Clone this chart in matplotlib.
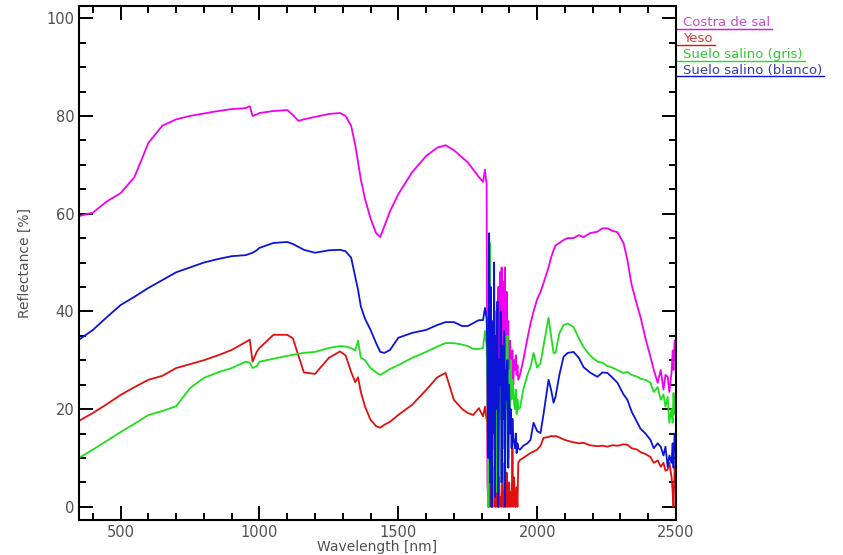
import matplotlib
matplotlib.use("Agg")
import matplotlib.pyplot as plt
from matplotlib.lines import Line2D
import numpy as np

# wavelength grid for the smooth parts (nm)
wl_vis = [350, 400, 450, 500, 550, 600, 650, 700, 750, 800, 850, 900, 950, 965, 975, 990,
          1000, 1050, 1100, 1120, 1140, 1160, 1200, 1250, 1290, 1310, 1330, 1345, 1355, 1365,
          1380, 1400, 1420, 1435, 1450, 1470, 1500, 1550, 1600, 1640, 1670, 1700, 1730, 1750,
          1770, 1790, 1805, 1812, 1818]

costra_vis = [59.5, 60.2, 62.5, 64.2, 67.5, 74.5, 78.0, 79.3, 80.0, 80.5, 81.0, 81.4, 81.6, 82.0, 80.0, 80.3,
              80.6, 81.0, 81.2, 80.2, 79.0, 79.3, 79.8, 80.4, 80.6, 80.0, 78.0, 74.0, 70.5, 67.0,
              63.0, 59.0, 56.0, 55.2, 57.5, 60.5, 64.0, 68.5, 71.8, 73.5, 74.0, 73.0, 71.5, 70.5,
              69.0, 67.5, 66.5, 69.0, 66.0]

yeso_vis = [17.6, 19.2, 21.0, 22.9, 24.5, 26.0, 26.8, 28.4, 29.2, 30.0, 31.0, 32.1, 33.7, 34.2, 29.7, 31.7,
            32.5, 35.2, 35.2, 34.5, 31.0, 27.5, 27.2, 30.5, 31.8, 31.0, 27.6, 25.5, 26.5, 23.5,
            20.5, 17.8, 16.5, 16.2, 16.8, 17.4, 18.8, 20.9, 23.9, 26.5, 27.4, 21.9, 20.0, 19.2,
            18.8, 20.2, 18.5, 20.5, 17.8]

gris_vis = [10.0, 11.7, 13.5, 15.3, 17.0, 18.8, 19.6, 20.6, 24.3, 26.4, 27.5, 28.4, 29.7, 29.5, 28.4, 28.8,
            29.7, 30.3, 30.9, 31.1, 31.3, 31.5, 31.7, 32.5, 32.9, 32.8, 32.5, 32.0, 34.0, 30.5,
            30.0, 28.4, 27.5, 27.0, 27.5, 28.2, 29.0, 30.5, 31.7, 32.8, 33.5, 33.5, 33.2, 32.9,
            32.3, 32.3, 32.5, 36.0, 33.0]

blanco_vis = [34.2, 36.2, 38.8, 41.3, 43.0, 44.8, 46.4, 48.0, 49.0, 50.0, 50.7, 51.3, 51.5, 51.8, 52.0, 52.5,
              53.0, 54.0, 54.2, 53.8, 53.2, 52.6, 52.0, 52.5, 52.6, 52.3, 51.0, 47.0, 44.4, 41.0,
              38.5, 36.2, 33.5, 31.7, 31.5, 32.1, 34.6, 35.6, 36.2, 37.2, 37.8, 37.8, 37.0, 37.0,
              37.6, 38.2, 38.2, 40.7, 38.5]

# water absorption band (noisy, nm)
wl_noise = [1821, 1824, 1827, 1830, 1833, 1836, 1839, 1842, 1845, 1848, 1851, 1854, 1857, 1860,
            1863, 1866, 1869, 1872, 1875, 1878, 1881, 1884, 1887, 1890, 1893, 1896, 1899, 1902,
            1905, 1908, 1911, 1914, 1917, 1920, 1923, 1926, 1929, 1932]

costra_noise = [5, 0, 44, 20, 38, 8, 30, 12, 40, 18, 28, 35, 15, 45, 22, 48, 30, 49,
                25, 46, 35, 49, 20, 44, 30, 38, 26, 34, 30, 28, 32, 25, 30, 28, 31, 27, 29, 26]
yeso_noise = [18, 0, 5, 0, 12, 0, 0, 8, 0, 3, 0, 10, 0, 0, 6, 0, 2, 0,
              9, 0, 0, 4, 0, 7, 0, 0, 5, 0, 3, 0, 12, 0, 6, 0, 0, 4, 0, 9]
gris_noise = [25, 0, 30, 54, 10, 35, 0, 28, 15, 40, 3, 22, 30, 0, 25, 18, 33, 5,
              28, 12, 30, 0, 25, 20, 35, 10, 28, 18, 30, 22, 26, 24, 21, 20, 24, 19, 22, 20]
blanco_noise = [30, 10, 56, 5, 45, 0, 38, 15, 50, 2, 35, 20, 42, 0, 30, 25, 40, 5,
                33, 18, 36, 0, 28, 22, 30, 8, 25, 15, 20, 12, 18, 14, 13, 12, 15, 11, 13, 12]

# SWIR part (nm)
wl_swir = [1938, 1950, 1965, 1976, 1987, 2000, 2012, 2023, 2041, 2050, 2059, 2066, 2080, 2095,
           2110, 2131, 2150, 2167, 2190, 2217, 2235, 2253, 2270, 2289, 2311, 2325, 2340, 2361,
           2372, 2390, 2408, 2420, 2434, 2445, 2455, 2462, 2470, 2476, 2484, 2488, 2491, 2495, 2500]

costra_swir = [27.0, 30.0, 34.5, 37.5, 40.0, 42.5, 44.0, 45.8, 49.0, 51.0, 52.5, 53.5, 54.0, 54.6,
               55.0, 55.0, 55.6, 55.2, 56.0, 56.3, 57.0, 57.0, 56.5, 56.2, 54.0, 50.5, 45.5, 41.0,
               38.9, 34.5, 30.7, 28.0, 25.4, 28.0, 24.0, 27.0, 26.6, 23.5, 27.5, 32.0, 28.0, 34.0, 30.0]

yeso_swir = [9.6, 10.0, 10.6, 11.0, 11.3, 11.7, 12.5, 14.1, 14.3, 14.5, 14.4, 14.5, 14.2, 13.8,
             13.5, 13.2, 13.0, 13.1, 12.6, 12.4, 12.5, 12.3, 12.6, 12.5, 12.8, 12.7, 12.0, 11.7,
             11.2, 10.8, 10.2, 9.0, 9.5, 8.2, 9.0, 7.4, 7.6, 9.0, 6.1, 3.0, 0.0, 8.0, 5.0]

gris_swir = [20.2, 24.0, 27.0, 28.6, 31.5, 28.5, 29.4, 33.0, 38.7, 35.0, 31.5, 31.5, 35.5, 37.2,
             37.5, 36.8, 34.5, 32.7, 31.0, 29.7, 29.5, 28.8, 28.5, 28.0, 27.4, 27.6, 27.0, 26.6,
             26.2, 26.0, 25.4, 23.5, 24.5, 21.9, 23.0, 20.5, 22.5, 17.2, 20.0, 17.2, 23.3, 19.0, 23.0]

blanco_swir = [11.7, 12.5, 13.0, 13.7, 17.2, 15.5, 15.1, 19.0, 26.0, 24.0, 21.3, 22.5, 27.0, 30.7,
               31.5, 31.7, 30.5, 28.6, 27.5, 26.6, 27.5, 27.4, 26.5, 25.4, 23.0, 21.9, 19.5, 17.2,
               16.0, 15.0, 13.7, 12.0, 13.0, 12.3, 10.5, 12.3, 8.2, 10.5, 9.0, 13.0, 8.0, 15.0, 12.0]

labels = ["Costra de sal", "Yeso", "Suelo salino (gris)", "Suelo salino (blanco)"]
colors = ["#f000f0", "#e01010", "#1ede1e", "#0c14d8"]
text_colors = ["#c84cc8", "#cc3a3a", "#30c830", "#3a3ab0"]

wl = wl_vis + wl_noise + wl_swir
series = [
    costra_vis + costra_noise + costra_swir,
    yeso_vis + yeso_noise + yeso_swir,
    gris_vis + gris_noise + gris_swir,
    blanco_vis + blanco_noise + blanco_swir,
]

fig = plt.figure(figsize=(8.43, 5.55), dpi=100)
ax = fig.add_axes([79 / 843, 35 / 555, 597 / 843, 514 / 555])

for vals, c in zip(series, colors):
    ax.plot(wl, vals, color=c, lw=1.3)

ax.set_xlim(350, 2500)
ax.set_ylim(-2.7, 102.5)
ax.set_xticks([500, 1000, 1500, 2000, 2500])
ax.set_xticks(np.arange(400, 2500, 100), minor=True)
ax.set_yticks([0, 20, 40, 60, 80, 100])
ax.set_yticks(np.arange(0, 101, 5), minor=True)

ax.tick_params(which="both", direction="in", top=True, right=True, width=1.4,
               colors="black", labelcolor="#505050", labelsize=10.5)
ax.tick_params(which="major", length=10)
ax.tick_params(which="minor", length=5)
for s in ax.spines.values():
    s.set_linewidth(1.5)

ax.set_xlabel("Wavelength [nm]", color="#505050", fontsize=10, labelpad=0)
ax.set_ylabel("Reflectance [%]", color="#505050", fontsize=10, labelpad=10)

# legend as underlined text to the right of the plot
fig.canvas.draw()
renderer = fig.canvas.get_renderer()
x0 = 683 / 843
for i, (lab, tc, lc) in enumerate(zip(labels, text_colors, colors)):
    yb = 1 - (26 + 16 * i) / 555
    t = fig.text(x0, yb, lab, color=tc, fontsize=9.5, ha="left", va="baseline")
    bb = t.get_window_extent(renderer)
    x_end = (bb.x1 + 2) / 843
    fig.add_artist(Line2D([677 / 843, x_end], [yb - 2.5 / 555, yb - 2.5 / 555],
                          color=lc, lw=1.0, transform=fig.transFigure))

fig.savefig("out.png", dpi=100)
